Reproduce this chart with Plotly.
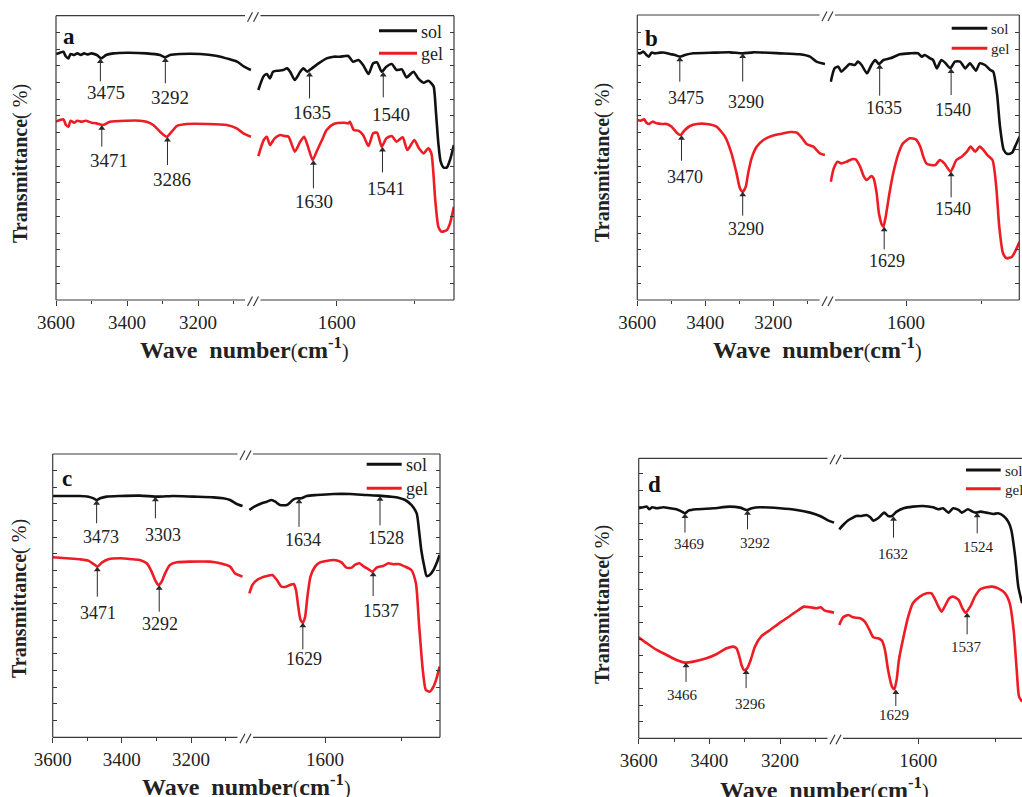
import numpy as np
import plotly.graph_objects as go

# ---------------- data (wavenumber cm-1, transmittance in arbitrary units) ----------------
# panel a
a_sol_hi_wn = [3600, 3589, 3579, 3573, 3565, 3559, 3549, 3540, 3530, 3521, 3512, 3500, 3485, 3472, 3459, 3438, 3401, 3345, 3307, 3293, 3279, 3251, 3194, 3150, 3110, 3090, 3070, 3051]
a_sol_hi_t = [738, 742, 745, 732, 725, 738, 735, 740, 735, 740, 737, 740, 735, 725, 735, 740, 742, 740, 735, 728, 735, 738, 738, 733, 722, 715, 700, 690]
a_sol_lo_wn = [1701, 1694, 1690, 1686, 1682, 1675, 1669, 1664, 1660, 1654, 1647, 1643, 1638, 1632, 1622, 1613, 1604, 1596, 1589, 1585, 1579, 1572, 1566, 1559, 1553, 1548, 1542, 1536, 1529, 1523, 1516, 1510, 1501, 1495, 1488, 1482, 1478, 1475, 1472, 1469, 1466, 1462, 1458, 1454, 1449]
a_sol_lo_t = [630, 672, 678, 665, 685, 688, 690, 695, 685, 660, 685, 695, 685, 695, 712, 725, 730, 730, 732, 732, 715, 720, 705, 678, 710, 713, 685, 700, 708, 690, 692, 668, 685, 665, 652, 658, 650, 640, 560, 470, 415, 397, 398, 420, 465]
a_gel_hi_wn = [3600, 3589, 3579, 3572, 3565, 3559, 3549, 3540, 3528, 3516, 3500, 3486, 3467, 3448, 3401, 3363, 3345, 3326, 3307, 3288, 3274, 3260, 3232, 3176, 3119, 3091, 3072, 3051]
a_gel_hi_t = [535, 540, 542, 525, 520, 538, 532, 538, 535, 538, 532, 530, 525, 535, 538, 538, 535, 525, 505, 490, 505, 522, 528, 528, 525, 515, 500, 490]
a_gel_lo_wn = [1701, 1694, 1690, 1686, 1680, 1673, 1667, 1662, 1654, 1647, 1642, 1637, 1631, 1626, 1619, 1613, 1604, 1591, 1585, 1583, 1578, 1572, 1566, 1559, 1553, 1548, 1542, 1536, 1529, 1523, 1515, 1509, 1500, 1494, 1488, 1482, 1478, 1473, 1469, 1465, 1458, 1454, 1449]
a_gel_lo_t = [432, 480, 490, 465, 485, 495, 492, 490, 445, 475, 490, 460, 420, 445, 480, 510, 528, 532, 530, 535, 510, 508, 495, 462, 500, 502, 460, 485, 492, 475, 488, 450, 480, 455, 440, 455, 440, 300, 220, 205, 210, 230, 280]

# panel b
b_sol_hi_wn = [3600, 3592, 3582, 3573, 3566, 3558, 3548, 3533, 3519, 3504, 3489, 3475, 3460, 3435, 3376, 3327, 3290, 3259, 3180, 3122, 3092, 3073, 3048]
b_sol_hi_t = [742, 740, 745, 735, 730, 742, 740, 742, 742, 738, 735, 730, 735, 740, 742, 743, 740, 743, 740, 737, 730, 715, 708]
b_sol_lo_wn = [1700, 1695, 1690, 1686, 1681, 1675, 1668, 1664, 1659, 1652, 1646, 1641, 1636, 1630, 1621, 1608, 1595, 1584, 1579, 1575, 1568, 1564, 1559, 1553, 1548, 1541, 1535, 1528, 1521, 1515, 1507, 1502, 1495, 1488, 1484, 1479, 1475, 1470, 1465, 1459, 1455, 1449]
b_sol_lo_t = [655, 695, 700, 685, 695, 708, 705, 715, 705, 680, 705, 720, 708, 720, 725, 737, 740, 740, 730, 735, 725, 720, 695, 720, 712, 695, 715, 715, 695, 710, 688, 710, 705, 690, 685, 620, 520, 450, 438, 442, 460, 490]
b_gel_hi_wn = [3600, 3590, 3580, 3573, 3565, 3555, 3543, 3528, 3514, 3499, 3484, 3473, 3460, 3445, 3425, 3396, 3367, 3342, 3323, 3308, 3298, 3290, 3281, 3274, 3264, 3249, 3229, 3205, 3180, 3151, 3131, 3117, 3102, 3082, 3063, 3048]
b_gel_hi_t = [540, 538, 542, 532, 528, 535, 530, 528, 528, 520, 502, 495, 510, 522, 528, 528, 520, 490, 440, 380, 335, 325, 340, 380, 425, 460, 480, 492, 498, 504, 502, 488, 468, 460, 440, 435]
b_gel_lo_wn = [1700, 1696, 1691, 1686, 1679, 1672, 1667, 1661, 1656, 1652, 1646, 1643, 1639, 1636, 1632, 1630, 1627, 1622, 1617, 1610, 1604, 1595, 1587, 1581, 1577, 1573, 1567, 1561, 1555, 1549, 1541, 1538, 1533, 1526, 1519, 1514, 1508, 1502, 1497, 1492, 1485, 1480, 1476, 1471, 1466, 1459, 1455, 1449]
b_gel_lo_t = [355, 395, 415, 410, 415, 422, 422, 400, 370, 360, 372, 365, 320, 260, 225, 220, 250, 320, 380, 440, 470, 485, 482, 460, 430, 410, 405, 405, 420, 410, 385, 395, 420, 430, 445, 460, 445, 460, 450, 435, 420, 340, 220, 140, 125, 130, 145, 175]

# panel c
c_sol_hi_wn = [3600, 3560, 3521, 3497, 3482, 3473, 3463, 3444, 3405, 3348, 3295, 3251, 3193, 3135, 3107, 3087, 3068, 3051]
c_sol_hi_t = [724, 724, 724, 722, 717, 712, 717, 722, 724, 725, 722, 724, 722, 720, 717, 712, 700, 694]
c_sol_lo_wn = [1699, 1694, 1685, 1676, 1670, 1665, 1659, 1650, 1646, 1641, 1636, 1631, 1624, 1611, 1589, 1567, 1546, 1530, 1515, 1504, 1495, 1487, 1480, 1477, 1474, 1470, 1467, 1463, 1458, 1454, 1450]
c_sol_lo_t = [682, 690, 700, 707, 712, 707, 697, 697, 704, 714, 717, 717, 724, 727, 730, 730, 727, 725, 722, 719, 712, 697, 672, 622, 562, 512, 484, 487, 502, 522, 547]
c_gel_hi_wn = [3600, 3560, 3521, 3497, 3482, 3471, 3458, 3439, 3405, 3367, 3348, 3328, 3314, 3304, 3295, 3285, 3275, 3261, 3241, 3203, 3145, 3116, 3087, 3073, 3051]
c_gel_hi_t = [540, 537, 534, 530, 520, 512, 524, 534, 537, 534, 532, 522, 497, 472, 457, 467, 492, 517, 525, 527, 527, 522, 512, 492, 482]
c_gel_lo_wn = [1699, 1695, 1689, 1683, 1676, 1669, 1663, 1657, 1651, 1646, 1641, 1638, 1635, 1632, 1629, 1626, 1623, 1619, 1613, 1607, 1598, 1589, 1583, 1578, 1572, 1565, 1561, 1555, 1549, 1543, 1538, 1532, 1524, 1517, 1511, 1504, 1495, 1487, 1481, 1477, 1472, 1468, 1463, 1458, 1454, 1450]
c_gel_lo_t = [432, 457, 472, 479, 484, 487, 472, 452, 452, 457, 460, 442, 392, 352, 344, 362, 422, 482, 512, 524, 529, 532, 530, 524, 509, 509, 517, 522, 512, 504, 497, 510, 514, 522, 519, 520, 512, 502, 462, 342, 202, 142, 137, 152, 177, 212]

# panel d
d_sol_hi_wn = [3600, 3587, 3577, 3570, 3562, 3549, 3530, 3511, 3493, 3478, 3469, 3459, 3436, 3389, 3342, 3313, 3294, 3280, 3257, 3200, 3153, 3115, 3087, 3063, 3047]
d_sol_hi_t = [690, 693, 695, 687, 693, 690, 693, 690, 687, 680, 675, 683, 687, 690, 695, 692, 685, 690, 693, 690, 685, 677, 667, 653, 647]
d_sol_lo_wn = [1702, 1697, 1690, 1686, 1680, 1673, 1667, 1662, 1658, 1652, 1644, 1639, 1634, 1628, 1619, 1607, 1594, 1581, 1574, 1568, 1561, 1555, 1548, 1544, 1536, 1530, 1526, 1520, 1512, 1503, 1497, 1490, 1484, 1480, 1475, 1471, 1466]
d_sol_lo_t = [627, 640, 655, 660, 667, 667, 670, 663, 653, 660, 677, 667, 667, 680, 690, 695, 697, 693, 687, 690, 677, 690, 685, 677, 687, 680, 677, 680, 677, 673, 675, 667, 650, 625, 545, 455, 405]
d_gel_hi_wn = [3600, 3577, 3549, 3521, 3493, 3469, 3445, 3408, 3379, 3351, 3332, 3323, 3315, 3309, 3302, 3293, 3283, 3271, 3252, 3228, 3200, 3172, 3148, 3132, 3115, 3096, 3085, 3073, 3060, 3047]
d_gel_hi_t = [303, 285, 265, 250, 235, 227, 230, 240, 253, 270, 275, 270, 245, 220, 205, 210, 235, 275, 307, 325, 347, 367, 385, 395, 393, 390, 393, 383, 380, 377]
d_gel_lo_wn = [1702, 1697, 1690, 1684, 1675, 1669, 1663, 1658, 1652, 1647, 1643, 1639, 1634, 1631, 1628, 1625, 1619, 1613, 1607, 1598, 1589, 1583, 1579, 1574, 1570, 1566, 1560, 1555, 1548, 1543, 1539, 1533, 1527, 1520, 1512, 1505, 1497, 1488, 1482, 1477, 1473, 1470, 1466]
d_gel_lo_t = [340, 363, 370, 363, 360, 350, 325, 303, 300, 293, 265, 205, 155, 147, 175, 235, 305, 365, 405, 425, 435, 435, 420, 395, 380, 395, 420, 425, 415, 390, 377, 395, 425, 447, 453, 455, 450, 435, 405, 325, 205, 125, 110]

# marked peaks (cm-1)
a_sol_peaks = [3475, 3292, 1635, 1540]
a_gel_peaks = [3471, 3286, 1630, 1541]
b_sol_peaks = [3475, 3290, 1635, 1540]
b_gel_peaks = [3470, 3290, 1629, 1540]
c_sol_peaks = [3473, 3303, 1634, 1528]
c_gel_peaks = [3471, 3292, 1629, 1537]
d_sol_peaks = [3469, 3292, 1632, 1524]
d_gel_peaks = [3466, 3296, 1629, 1537]

series_names = ["sol", "gel"]
panel_letters = ["a", "b", "c", "d"]
hi_major_ticks = [3600, 3400, 3200]
hi_minor_ticks = [3500, 3300, 3100]
lo_major_ticks = [1600]
lo_minor_ticks = [1500]

# ---------------- layout / style ----------------
W, H = 1022, 797
SERIF = "Liberation Serif"
COLORS = {"sol": "#111111", "gel": "#ee1c24"}
FRAME = "#3a3a3a"
ARROW = "#2a2a2a"


def fx(px):
    return px / W


def fy(py):
    return 1 - py / H


data = {
    "a": dict(sol=(a_sol_hi_wn, a_sol_hi_t, a_sol_lo_wn, a_sol_lo_t, a_sol_peaks),
              gel=(a_gel_hi_wn, a_gel_hi_t, a_gel_lo_wn, a_gel_lo_t, a_gel_peaks)),
    "b": dict(sol=(b_sol_hi_wn, b_sol_hi_t, b_sol_lo_wn, b_sol_lo_t, b_sol_peaks),
              gel=(b_gel_hi_wn, b_gel_hi_t, b_gel_lo_wn, b_gel_lo_t, b_gel_peaks)),
    "c": dict(sol=(c_sol_hi_wn, c_sol_hi_t, c_sol_lo_wn, c_sol_lo_t, c_sol_peaks),
              gel=(c_gel_hi_wn, c_gel_hi_t, c_gel_lo_wn, c_gel_lo_t, c_gel_peaks)),
    "d": dict(sol=(d_sol_hi_wn, d_sol_hi_t, d_sol_lo_wn, d_sol_lo_t, d_sol_peaks),
              gel=(d_gel_hi_wn, d_gel_hi_t, d_gel_lo_wn, d_gel_lo_t, d_gel_peaks)),
}

# pixel geometry of each panel
panels = [
    dict(left=56, brk=255, right=454, top=15.7, bot=300, hi_scale=0.355, lo_px=336.7, lo_scale=0.776,
         ymax=853, dtick=50.2, right_vis=True, lab_fs=19, leg_fs=18,
         leg=dict(x0=379, x1=417, ys=(30.7, 53.3), tx=419),
         letter=(69, 37), xtitle=(244, 348), ytitle=(20, 164),
         styles=dict(sol=[(23, 5.3, 34.3), (26, 4.3, 40), (26.7, 2.3, 41), (25.7, 7.3, 43.3)],
                     gel=[(21.7, 6.7, 36), (28.3, 4.3, 43.3), (28.3, 0.7, 41.7), (25.7, 3.3, 41.7)])),
    dict(left=637.3, brk=829.5, right=1019.3, top=15, bot=300, hi_scale=0.34, lo_px=906, lo_scale=0.752,
         ymax=855, dtick=50.2, right_vis=True, lab_fs=18, leg_fs=15,
         leg=dict(x0=951.7, x1=987.3, ys=(28.3, 48.3), tx=989),
         letter=(651, 38), xtitle=(817, 348), ytitle=(602, 163),
         styles=dict(sol=[(25, 6, 41.7), (28.3, 3, 48.3), (31.7, 4, 44.3), (26.7, 2, 41.7)],
                     gel=[(25.7, 3.3, 42.3), (24, 3, 37.3), (22.7, 2.7, 34.3), (25.7, 1.7, 37.3)])),
    dict(left=52.7, brk=247.5, right=440, top=454, bot=737.3, hi_scale=0.3458, lo_px=325, lo_scale=0.764,
         ymax=850, dtick=50.0, right_vis=True, lab_fs=18, leg_fs=18,
         leg=dict(x0=366.7, x1=401.7, ys=(464.3, 488.3), tx=404),
         letter=(67, 478), xtitle=(246, 785), ytitle=(19, 599),
         styles=dict(sol=[(23.3, 4.3, 37.3), (21.7, 7.3, 38.3), (28.3, 4, 41.7), (29.3, 6.3, 41.7)],
                     gel=[(30, 1, 46.7), (26.7, 0.3, 39), (26.7, 1, 36.7), (24.3, 7.7, 39)])),
    dict(left=638.7, brk=837.5, right=1022, top=458.3, bot=738.3, hi_scale=0.3533, lo_px=918.3, lo_scale=0.775,
         ymax=840, dtick=49.6, right_vis=False, lab_fs=15, leg_fs=15,
         leg=dict(x0=966, x1=1000.7, ys=(470, 488.7), tx=1003),
         letter=(654, 484), xtitle=(824, 788), ytitle=(602, 605),
         styles=dict(sol=[(19.3, 4.3, 30.7), (19.3, 7.3, 33.3), (21.7, -0.7, 37.7), (20.7, 1.3, 34.3)],
                     gel=[(19.3, -3.3, 32.3), (18.7, 4, 34.3), (16.7, -2.3, 26), (21.7, -1, 34)])),
]


def axkey(kind, i):
    return f"{kind}axis" if i == 1 else f"{kind}axis{i}"


def axref(kind, i):
    return kind if i == 1 else f"{kind}{i}"


def curve_min(wn, t, p, half=3.0):
    w = np.asarray(wn, float)[::-1]
    v = np.asarray(t, float)[::-1]
    xs = np.linspace(p - half, p + half, 25)
    return float(np.min(np.interp(xs, w, v)))


fig = go.Figure()
layout = dict(width=W, height=H,
              margin=dict(l=0, r=0, t=0, b=0, autoexpand=False),
              paper_bgcolor="white", plot_bgcolor="rgba(0,0,0,0)",
              font=dict(family=SERIF, color="#222"),
              showlegend=False)
shapes = []
annotations = []


def seg(x0, y0, x1, y1, color=FRAME, width=1.2):
    shapes.append(dict(type="line", xref="paper", yref="paper",
                       x0=fx(x0), y0=fy(y0), x1=fx(x1), y1=fy(y1),
                       line=dict(color=color, width=width)))


for p, P in enumerate(panels):
    key = panel_letters[p]
    hi_range = [3600, 3600 - (P["brk"] - P["left"]) / P["hi_scale"]]
    lo_range = [1600 + (P["lo_px"] - P["brk"]) / P["lo_scale"],
                1600 - (P["right"] - P["lo_px"]) / P["lo_scale"]]
    segs = [
        dict(dom=[fx(P["left"]), fx(P["brk"])], rng=hi_range, major=hi_major_ticks, minor=hi_minor_ticks, side="left"),
        dict(dom=[fx(P["brk"]), fx(P["right"])], rng=lo_range, major=lo_major_ticks, minor=lo_minor_ticks, side="right"),
    ]
    units_per_px = P["ymax"] / (P["bot"] - P["top"])
    for s, S in enumerate(segs):
        i = 2 * p + s + 1
        it = 8 + i
        layout[axkey("x", i)] = dict(
            domain=S["dom"], range=S["rng"], anchor=axref("y", i),
            showgrid=False, zeroline=False, showline=False,
            tickmode="array", tickvals=S["major"], ticks="outside", ticklen=5, tickwidth=1, tickcolor=FRAME,
            minor=dict(tickmode="array", tickvals=S["minor"], ticks="outside", ticklen=3, tickwidth=1, tickcolor=FRAME),
            tickfont=dict(family=SERIF, size=19, color="#222"), ticklabelstandoff=0,
        )
        layout[axkey("x", it)] = dict(
            overlaying=axref("x", i), side="top", anchor=axref("y", i), range=S["rng"],
            showgrid=False, zeroline=False, showline=False, showticklabels=False,
            tickmode="array", tickvals=S["major"] + S["minor"], ticks="inside", ticklen=4, tickwidth=1, tickcolor=FRAME,
        )
        show_y_ticks = not (s == 1 and not P["right_vis"])
        layout[axkey("y", i)] = dict(
            domain=[fy(P["bot"]), fy(P["top"])], range=[0, P["ymax"]], anchor=axref("x", i), side=S["side"],
            showgrid=False, zeroline=False, showline=False, showticklabels=False,
            tickmode="linear", tick0=0, dtick=P["dtick"],
            ticks="inside" if show_y_ticks else "", ticklen=4, tickwidth=1, tickcolor=FRAME,
        )
        # spectra
        for name in series_names:
            arr = data[key][name]
            wn, t = (arr[0], arr[1]) if s == 0 else (arr[2], arr[3])
            fig.add_trace(go.Scatter(
                x=wn, y=t, mode="lines", name=name,
                line=dict(color=COLORS[name], width=2.6, shape="spline", smoothing=0.6),
                xaxis=axref("x", i), yaxis=axref("y", i), hoverinfo="skip",
            ))
        # peak arrows (shaft + head) for this segment
        ax_x, ax_y, hd_x, hd_y = [], [], [], []
        for name in series_names:
            arr = data[key][name]
            wn, t = (arr[0], arr[1]) if s == 0 else (arr[2], arr[3])
            for k, pk in enumerate(arr[4]):
                if (pk > 2500) != (s == 0):
                    continue
                tip = curve_min(wn, t, pk)
                L, dx, dy = P["styles"][name][k]
                ax_x += [pk, pk, None]
                ax_y += [tip - 2 * units_per_px, tip - L * units_per_px, None]
                hd_x.append(pk)
                hd_y.append(tip - 3.2 * units_per_px)
                annotations.append(dict(
                    xref=axref("x", i), yref=axref("y", i), x=pk, y=tip, text=str(pk),
                    showarrow=False, xshift=dx, yshift=-dy, xanchor="center", yanchor="middle",
                    font=dict(family=SERIF, size=P["lab_fs"], color="#222")))
        fig.add_trace(go.Scatter(x=ax_x, y=ax_y, mode="lines", line=dict(color=ARROW, width=1),
                                 xaxis=axref("x", i), yaxis=axref("y", i), hoverinfo="skip"))
        fig.add_trace(go.Scatter(x=hd_x, y=hd_y, mode="markers",
                                 marker=dict(symbol="triangle-up", size=6, color=ARROW, line=dict(width=0)),
                                 xaxis=axref("x", i), yaxis=axref("y", i), hoverinfo="skip"))

    # legend (drawn per panel)
    lg = P["leg"]
    for name, yy in zip(series_names, lg["ys"]):
        seg(lg["x0"], yy, lg["x1"], yy, color=COLORS[name], width=3)
        annotations.append(dict(xref="paper", yref="paper", x=fx(lg["tx"]), y=fy(yy + 1),
                                text=name, showarrow=False, xanchor="left", yanchor="middle",
                                font=dict(family=SERIF, size=P["leg_fs"], color="#222")))

    # panel letter
    annotations.append(dict(xref="paper", yref="paper", x=fx(P["letter"][0]), y=fy(P["letter"][1]),
                            text=f"<b>{key}</b>", showarrow=False, xanchor="center", yanchor="middle",
                            font=dict(family=SERIF, size=23, color="#111")))
    # axis titles
    annotations.append(dict(xref="paper", yref="paper", x=fx(P["xtitle"][0]), y=fy(P["xtitle"][1]),
                            text="<b>Wave\u00a0\u00a0number</b><span style='font-size:20px'>(</span><b>cm<sup>-1</sup></b><span style='font-size:20px'>)</span>",
                            showarrow=False, xanchor="center", yanchor="middle",
                            font=dict(family=SERIF, size=24, color="#222")))
    annotations.append(dict(xref="paper", yref="paper", x=fx(P["ytitle"][0]), y=fy(P["ytitle"][1]),
                            text="<b>Transmittance</b>(\u00a0%)", textangle=-90,
                            showarrow=False, xanchor="center", yanchor="middle",
                            font=dict(family=SERIF, size=20, color="#222")))

    # frame with axis break
    L0, R0, T0, B0, K = P["left"], P["right"], P["top"], P["bot"], P["brk"]
    r_ext = R0 if P["right_vis"] else R0 + 20
    seg(L0, T0, L0, B0)
    if P["right_vis"]:
        seg(R0, T0, R0, B0)
    for yy in (T0, B0):
        seg(L0, yy, K - 10, yy)
        seg(K + 5.5, yy, r_ext, yy)
        for c0 in (K - 7.5, K - 1.5):
            seg(c0, yy + 6, c0 + 5, yy - 3.5)

layout["shapes"] = shapes
layout["annotations"] = annotations
fig.update_layout(**layout)
fig.write_html("out.html", config={"displayModeBar": False, "staticPlot": True},
               post_script="document.body.style.margin='0';document.body.style.padding='0';document.body.style.overflow='hidden';")
